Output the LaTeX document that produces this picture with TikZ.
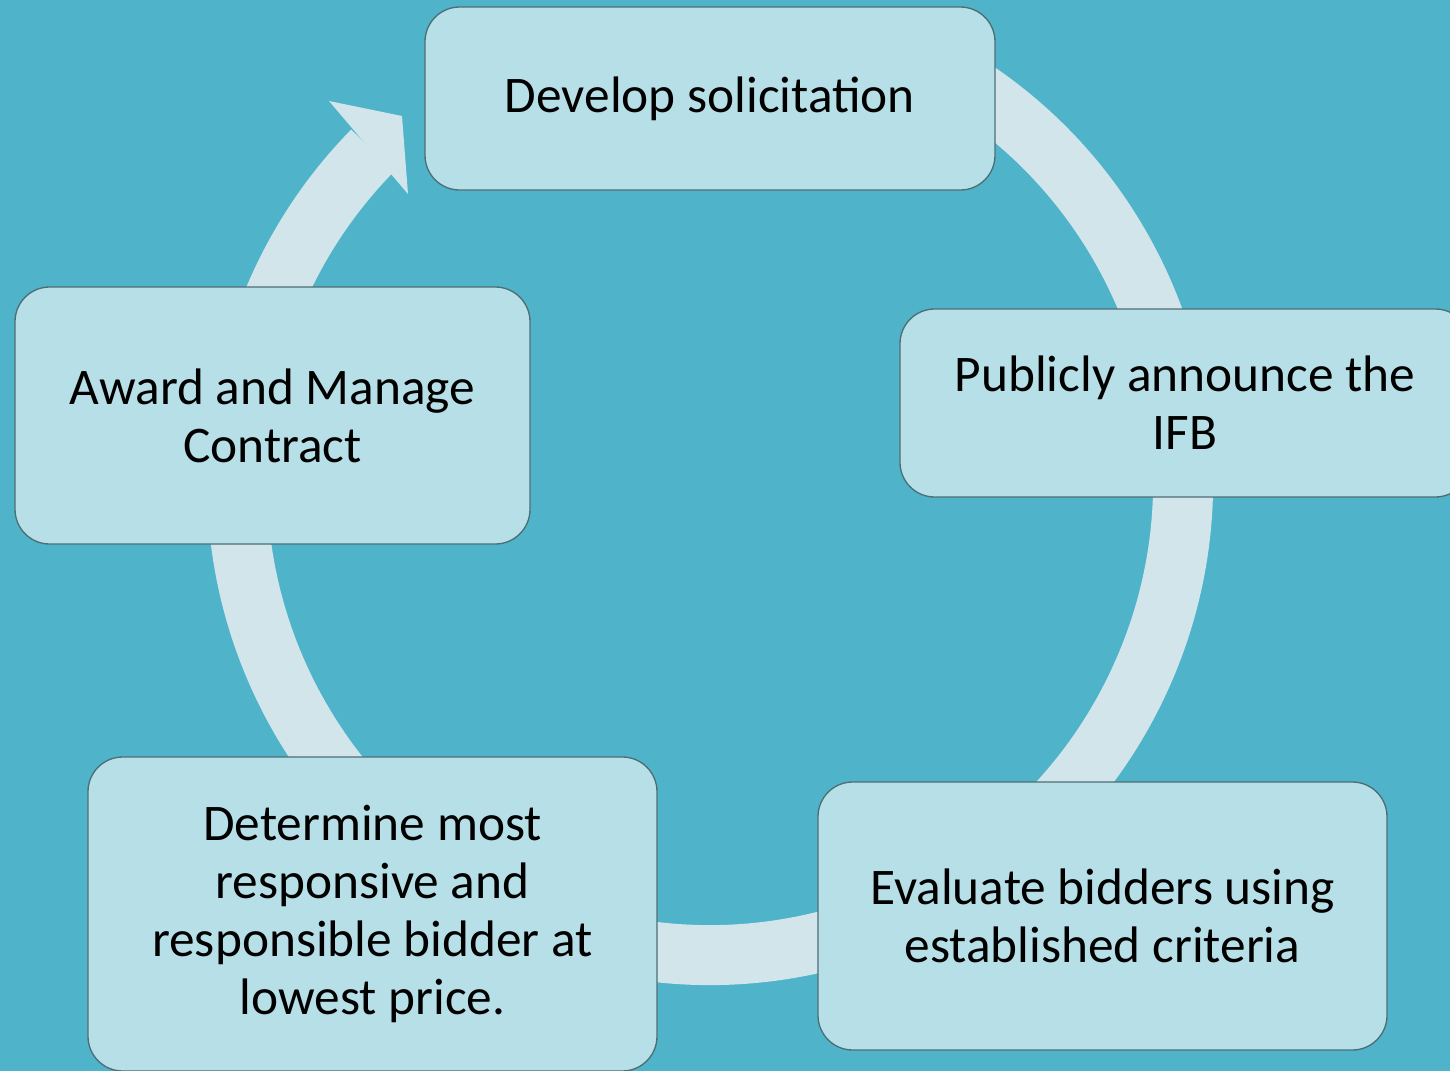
\documentclass[tikz,border=0pt]{standalone}
\usepackage{fontspec}
\setmainfont{Carlito}
\definecolor{bgteal}{HTML}{4FB3C9}
\definecolor{boxfill}{HTML}{B7DFE7}
\definecolor{ringcol}{HTML}{D1E5EB}
\definecolor{boxline}{HTML}{4E6E76}
\begin{document}
\begin{tikzpicture}[x=0.75pt,y=-0.75pt,
  stepbox/.style={draw=boxline, line width=1pt, fill=boxfill, rounded corners=26pt,
    align=center, inner sep=0pt, font=\fontsize{38.5}{43.5}\selectfont},
  ring/.style={draw=ringcol, line width=45pt}]
% background
\fill[bgteal] (0,0) rectangle (1450,1071);
\useasboundingbox (0,0) rectangle (1450,1071);
% cycle arrow behind the steps
\coordinate (c) at (710,482);
\draw[ring] (c) ++(-65:473) arc[start angle=-65, end angle=224.5, radius=473];
\fill[ringcol] (329,101) -- (402,116) -- (408,194) -- cycle;
% steps
\node[stepbox, minimum width=570*0.75pt, minimum height=183*0.75pt] (s1) at (710,98.5) {Develop solicitation};
\node[stepbox, minimum width=570*0.75pt, minimum height=188*0.75pt] (s2) at (1185,403) {Publicly announce the\\IFB};
\node[stepbox, minimum width=569*0.75pt, minimum height=268*0.75pt] (s3) at (1102.5,916) {Evaluate bidders using\\established criteria};
\node[stepbox, minimum width=569*0.75pt, minimum height=314*0.75pt] (s4) at (372.5,914) {Determine most\\responsive and\\responsible bidder at\\lowest price.};
\node[stepbox, minimum width=515*0.75pt, minimum height=257*0.75pt] (s5) at (272.5,415.5) {Award and Manage\\Contract};
\end{tikzpicture}
\end{document}
